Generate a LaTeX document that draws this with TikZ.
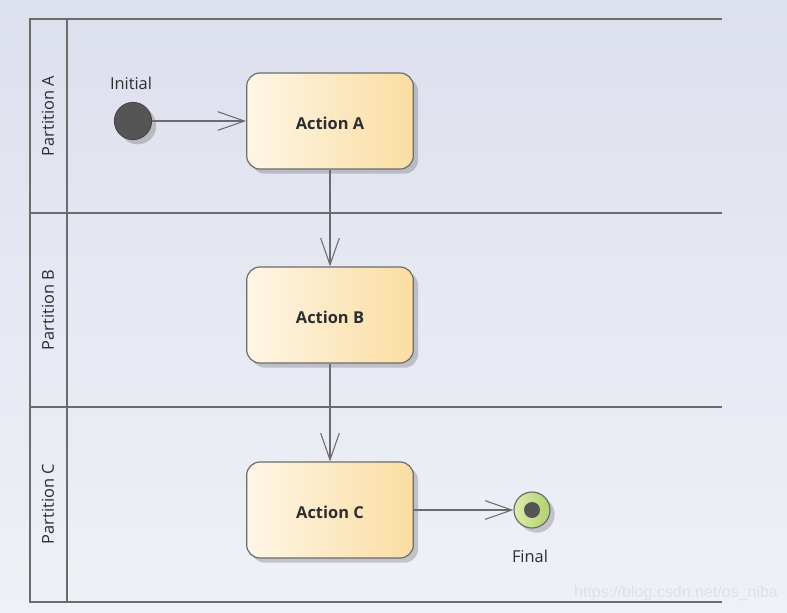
\documentclass[tikz,border=0pt]{standalone}
\usepackage{fontspec}
\setmainfont{Open Sans}
\newfontfamily\markfont{Liberation Sans}
\usetikzlibrary{positioning, arrows.meta, shadows}

\definecolor{bgtop}{RGB}{221,224,237}
\definecolor{bgbottom}{RGB}{239,241,247}
\definecolor{laneline}{RGB}{108,108,108}
\definecolor{actleft}{RGB}{254,246,230}
\definecolor{actright}{RGB}{250,221,162}
\definecolor{finleft}{RGB}{220,236,172}
\definecolor{finright}{RGB}{176,209,112}
\definecolor{dotgray}{RGB}{85,85,85}
\definecolor{labeltext}{RGB}{45,45,50}
\definecolor{marktext}{RGB}{222,224,232}

\begin{document}
\begin{tikzpicture}[
    x=0.75pt, y=-0.75pt,
    % Styling
    base font/.style={font=\fontsize{12.3}{15}\selectfont},
    lane line/.style={draw=laneline, line width=1.5pt},
    lane title/.style={
        base font,
        rotate=90,
        text=labeltext
    },
    soft shadow/.style={
        drop shadow={shadow xshift=3.5pt, shadow yshift=-3.5pt,
                     fill=black, opacity=0.18}
    },
    % Style for the action boxes
    action/.style={
        base font, font=\fontsize{12.3}{15}\selectfont\bfseries,
        draw=laneline, line width=0.9pt,
        rounded corners=10pt,
        minimum width=125pt, minimum height=72pt,
        text height=12pt, text depth=0pt,
        left color=actleft, right color=actright,
        text=labeltext,
        soft shadow
    },
    start node/.style={
        circle, draw=dotgray!80!black, line width=0.6pt,
        fill=dotgray, minimum size=28pt, inner sep=0pt,
        soft shadow
    },
    end node/.style={
        circle, draw=laneline, line width=0.9pt,
        left color=finleft, right color=finright,
        minimum size=27pt, inner sep=0pt,
        soft shadow
    },
    end dot/.style={
        circle, fill=dotgray, minimum size=12pt, inner sep=0pt
    },
    node text/.style={base font, text=labeltext},
    flow/.style={
        draw=laneline, line width=0.8pt,
        -{Straight Barb[length=20pt, width=14pt, line width=0.8pt]}
    }
]

% --- Background ---
\shade[top color=bgtop, bottom color=bgbottom] (0,0) rectangle (787,612);
\useasboundingbox (0,0) rectangle (787,612);

% --- Swimlanes ---
\draw[lane line] (722,19) -- (30,19) -- (30,602) -- (722,602);
\draw[lane line] (67,19) -- (67,602);
\foreach \y in {213, 407} {
    \draw[lane line] (30,\y) -- (722,\y);
}
% Format: Name / y of the lane centre
\foreach \name/\y in {A/116, B/310, C/504} {
    \node[lane title] (part\name) at (48,\y) {Partition \name};
}

% --- Nodes ---
\node[start node] (init) at (133,121) {};
\node[node text] (initLabel) at (131,83) {Initial};

\foreach \name/\y in {A/121, B/315, C/510} {
    \node[action] (act\name) at (330,\y) {Action \name};
}

\node[end node] (final) at (532,510) {};
\node[end dot] (finalDot) at (final.center) {};
\node[node text] (finalLabel) at (530,556) {Final};

% --- Flows ---
\draw[flow] (init) -- (actA.west);
\draw[flow] (actA) -- (actB);
\draw[flow] (actB) -- (actC);
\draw[flow] (actC.east) -- (final);

% --- Watermark ---
\node[font=\markfont\fontsize{12}{14}\selectfont, text=marktext] (mark) at (676,593) {https://blog.csdn.net/os\_niba};

\end{tikzpicture}
\end{document}
